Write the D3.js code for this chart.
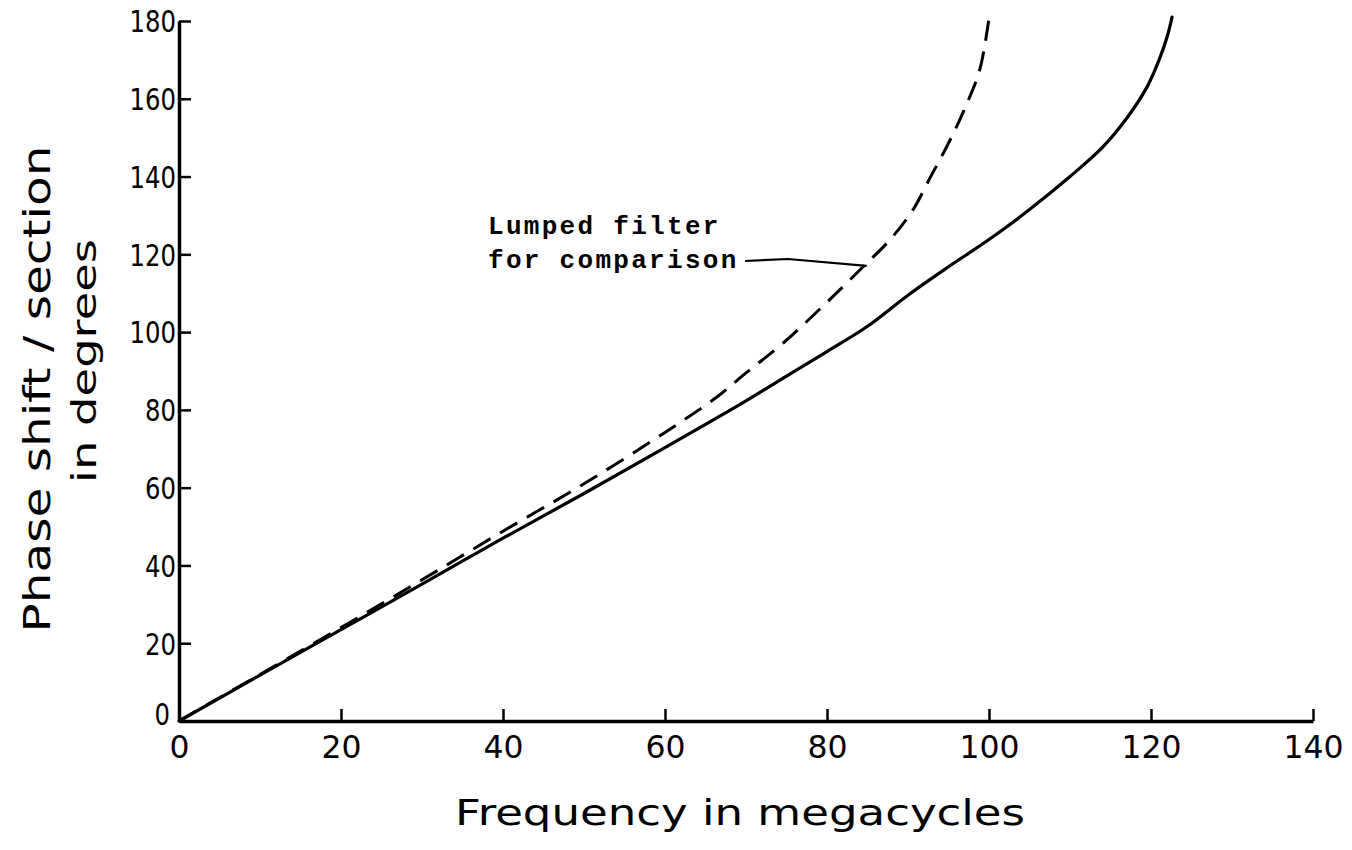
<!DOCTYPE html>
<html>
<head>
<meta charset="utf-8">
<script src="https://cdn.jsdelivr.net/npm/d3@7"></script>
<style>
  html, body { margin: 0; padding: 0; background: #fff; }
  svg { display: block; }
  .tick text { font-family: "DejaVu Sans", "Liberation Sans", sans-serif; fill: #000; }
</style>
</head>
<body>
<svg id="chart" width="1352" height="850"></svg>
<script>
// Phase shift per section vs. frequency, distributed line vs. lumped filter
const xTicks = [0, 20, 40, 60, 80, 100, 120, 140];
const yTicks = [0, 20, 40, 60, 80, 100, 120, 140, 160, 180];

// Solid curve (frequency in Mc, phase in degrees)
const solidFreq  = [0, 10, 20, 30, 40, 50, 60, 70, 75, 80, 85, 90, 95, 100, 105, 110, 114, 117, 119.5, 121, 122, 122.6];
const solidPhase = [0, 11.8, 23.5, 35.2, 47, 58.5, 70.3, 82.3, 88.7, 95, 101.5, 109.5, 116.8, 123.8, 131.5, 140, 147.5, 155, 163, 170, 176, 181];

// Dashed curve: lumped filter for comparison
const lumpedFreq  = [0, 20, 30, 40, 50, 60, 66.4, 70, 74.6, 80.4, 84.4, 87.8, 90.6, 92.7, 95.2, 97.3, 98.9, 100];
const lumpedPhase = [0, 24, 36.3, 48.8, 61, 74.2, 83.3, 89.5, 97.2, 108.5, 116.7, 123.8, 131.4, 139.6, 149.4, 158.9, 167.8, 180.8];

const annotation = ["Lumped filter", "for comparison"];

const svg = d3.select("#chart");

const x = d3.scaleLinear().domain([0, 140]).range([179, 1313]);
const y = d3.scaleLinear().domain([0, 180]).range([721, 21]);

// Axes: ticks point inward
const xAxis = d3.axisBottom(x).tickValues(xTicks).tickSize(-12).tickSizeOuter(0).tickPadding(14);
const gx = svg.append("g").attr("transform", `translate(0,${y(0)})`).call(xAxis);
gx.select(".domain").attr("stroke", "#000").attr("stroke-width", 3.5);
gx.selectAll(".tick line").attr("stroke", "#000").attr("stroke-width", 2.5)
  .attr("display", d => d === 0 ? "none" : null);
gx.selectAll(".tick text").attr("font-size", 32).attr("dy", "0.72em")
  .attr("textLength", d => String(d).length * 20)
  .attr("lengthAdjust", "spacingAndGlyphs");

const yAxis = d3.axisLeft(y).tickValues(yTicks).tickSize(-12).tickSizeOuter(0).tickPadding(3);
const gy = svg.append("g").attr("transform", `translate(${x(0)},0)`).call(yAxis);
gy.select(".domain").attr("stroke", "#000").attr("stroke-width", 3.5);
gy.selectAll(".tick line").attr("stroke", "#000").attr("stroke-width", 2.5)
  .attr("display", d => d === 0 ? "none" : null);
gy.selectAll(".tick text").attr("font-size", 30)
  // the zero label sits a little higher and further left so it clears the x-axis zero
  .attr("dy", d => d === 0 ? "0.1em" : "0.36em")
  .attr("x", d => d === 0 ? -9 : -3)
  .attr("textLength", d => String(d).length * 15.5)
  .attr("lengthAdjust", "spacingAndGlyphs");

// Curves
const line = d3.line().curve(d3.curveCatmullRom.alpha(0.5));

const solidPts = solidFreq.map((f, i) => [x(f), y(solidPhase[i])]);
const lumpedPts = lumpedFreq.map((f, i) => [x(f), y(lumpedPhase[i])]);

svg.append("path")
  .attr("d", line(lumpedPts))
  .attr("fill", "none")
  .attr("stroke", "#000")
  .attr("stroke-width", 3)
  .attr("stroke-dasharray", "20,11");

svg.append("path")
  .attr("d", line(solidPts))
  .attr("fill", "none")
  .attr("stroke", "#000")
  .attr("stroke-width", 3.2)
  .attr("stroke-linecap", "round");

// Annotation with leader line
const ann = svg.append("text")
  .attr("font-family", "Liberation Mono, DejaVu Sans Mono, monospace")
  .attr("font-weight", "bold")
  .attr("font-size", 26)
  .attr("letter-spacing", 2.3)
  .attr("fill", "#000");
ann.selectAll("tspan").data(annotation).join("tspan")
  .attr("x", 488)
  .attr("y", (d, i) => 234 + i * 34)
  .text(d => d);

svg.append("path")
  .attr("d", `M745,261 L788,259 L${x(84.9)},${y(116.5) - 2}`)
  .attr("fill", "none")
  .attr("stroke", "#000")
  .attr("stroke-width", 2.2);

// Axis titles
const titleFont = "DejaVu Sans, Noto Sans, sans-serif";
svg.append("text")
  .attr("transform", "translate(50,389) rotate(-90)")
  .attr("text-anchor", "middle")
  .attr("font-family", titleFont)
  .attr("font-size", 38)
  .attr("textLength", 487)
  .attr("lengthAdjust", "spacingAndGlyphs")
  .attr("fill", "#000")
  .text("Phase shift / section");

svg.append("text")
  .attr("transform", "translate(96,361) rotate(-90)")
  .attr("text-anchor", "middle")
  .attr("font-family", titleFont)
  .attr("font-size", 34)
  .attr("textLength", 244)
  .attr("lengthAdjust", "spacingAndGlyphs")
  .attr("fill", "#000")
  .text("in degrees");

svg.append("text")
  .attr("x", 740)
  .attr("y", 825)
  .attr("text-anchor", "middle")
  .attr("font-family", titleFont)
  .attr("font-size", 36)
  .attr("textLength", 570)
  .attr("lengthAdjust", "spacingAndGlyphs")
  .attr("fill", "#000")
  .text("Frequency in megacycles");
</script>
</body>
</html>
